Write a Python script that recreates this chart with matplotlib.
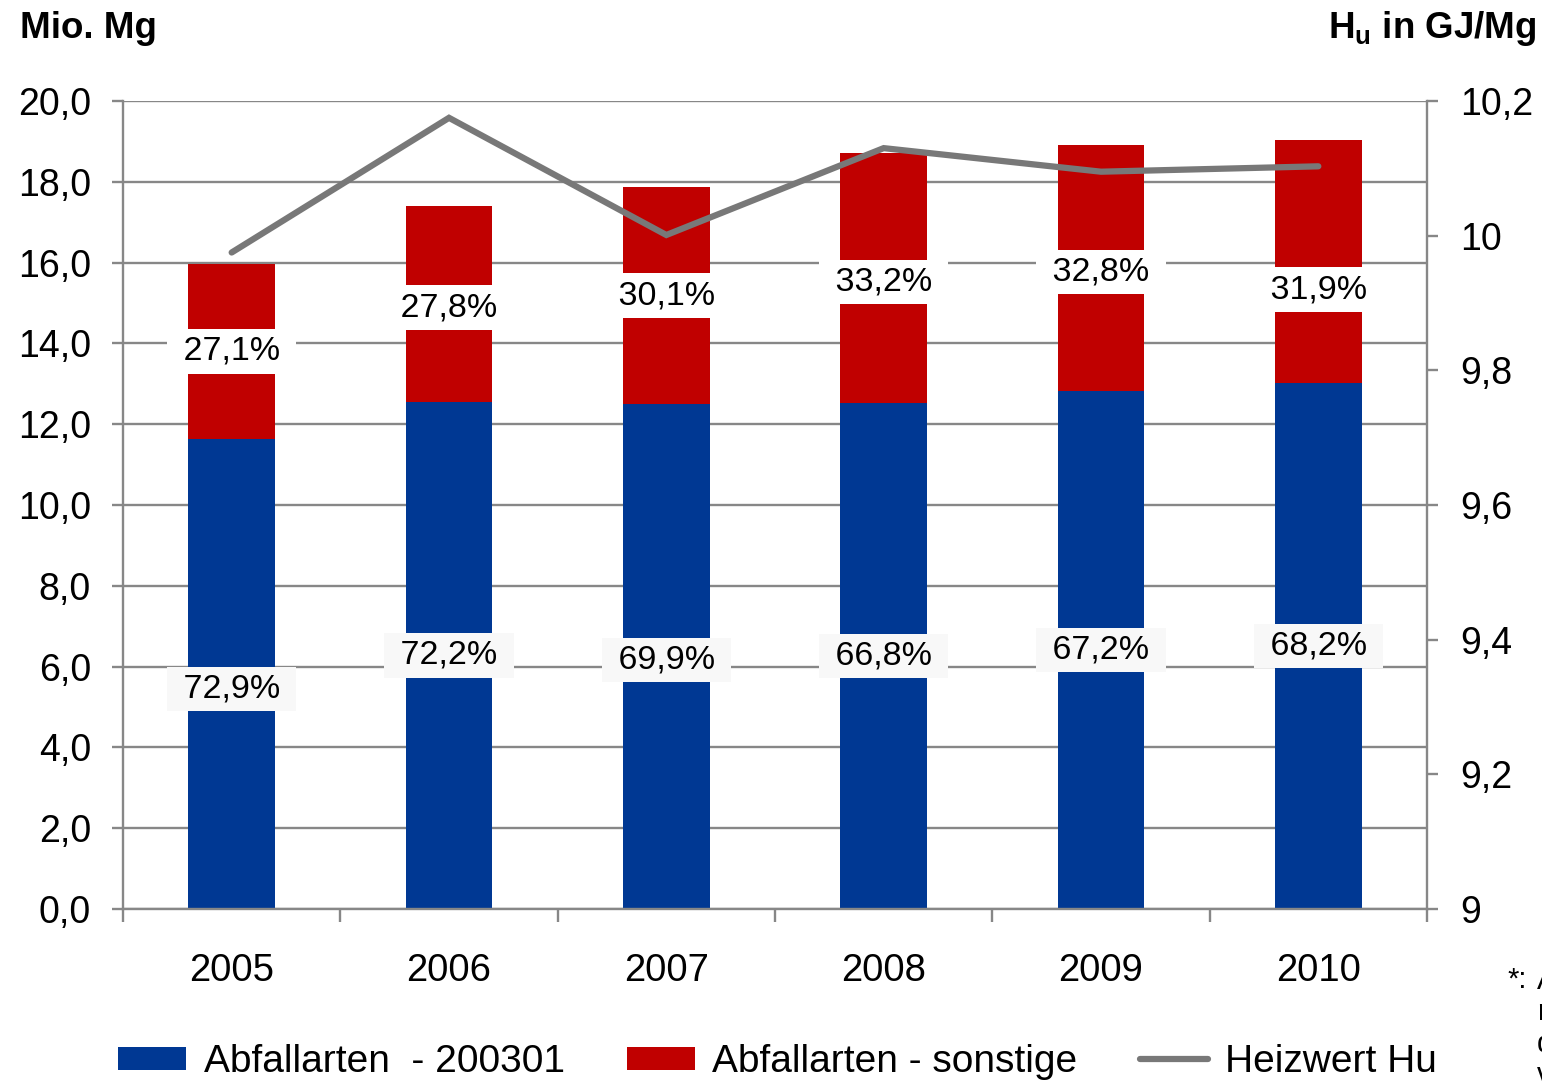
import matplotlib
matplotlib.use('Agg')
import matplotlib.pyplot as plt
import numpy as np

plt.rcParams['font.family'] = ['Liberation Sans', 'DejaVu Sans']
plt.rcParams['mathtext.fontset'] = 'custom'
plt.rcParams['mathtext.rm'] = 'Liberation Sans'
plt.rcParams['mathtext.bf'] = 'Liberation Sans:bold'

# data
years = ['2005', '2006', '2007', '2008', '2009', '2010']
menge_200301 = [11.64, 12.55, 12.50, 12.52, 12.82, 13.02]   # Mio. Mg
menge_sonstige = [4.32, 4.85, 5.37, 6.19, 6.10, 6.02]       # Mio. Mg
anteil_200301 = [72.9, 72.2, 69.9, 66.8, 67.2, 68.2]        # %
anteil_sonstige = [27.1, 27.8, 30.1, 33.2, 32.8, 31.9]      # %
heizwert = [9.975, 10.175, 10.001, 10.130, 10.095, 10.103]  # GJ/Mg

# small label nudges (Mio. Mg) as in the original
nudge_blue = [-0.37, 0, -0.09, 0, 0, 0]
nudge_red = [0, -0.09, 0, -0.1, -0.1, -0.7]

blue = '#003893'
red = '#c00000'
grey = '#878787'
line_grey = '#787878'

fig = plt.figure(figsize=(15.42, 10.82), dpi=100)
ax = fig.add_axes([123/1542, 1-909/1082, (1427-123)/1542, (909-101)/1082])
ax2 = ax.twinx()

x = np.arange(len(years))
w = 0.4
ax.bar(x, menge_200301, w, color=blue, zorder=2, label='Abfallarten  - 200301')
ax.bar(x, menge_sonstige, w, bottom=menge_200301, color=red, zorder=2,
       label='Abfallarten - sonstige')

for i in range(len(years)):
    b = menge_200301[i]
    r = menge_sonstige[i]
    ax.text(x[i], b/2 + nudge_blue[i], ' %s%% ' % ('%.1f' % anteil_200301[i]).replace('.', ','),
            ha='center', va='center', fontsize=24.5, zorder=4,
            bbox=dict(boxstyle='square,pad=0.2', fc='#f8f8f8', ec='none'))
    ax.text(x[i], b + r/2 + nudge_red[i], ' %s%% ' % ('%.1f' % anteil_sonstige[i]).replace('.', ','),
            ha='center', va='center', fontsize=24.5, zorder=4,
            bbox=dict(boxstyle='square,pad=0.2', fc='white', ec='none'))

ax2.plot(x, heizwert, color=line_grey, lw=4.5, solid_capstyle='round',
         solid_joinstyle='miter', label='Heizwert Hu', zorder=5)

# left axis
ax.set_xlim(-0.5, 5.5)
ax.set_ylim(0, 20)
yt = np.arange(0, 20.1, 2)
ax.set_yticks(yt)
ax.set_yticklabels([('%.1f' % v).replace('.', ',') for v in yt])
ax.yaxis.grid(True, color=grey, lw=1.7)
ax.set_axisbelow(True)
ax.set_xticks(x)
ax.set_xticklabels(years)
ax.set_xticks(np.arange(-0.5, 5.6, 1), minor=True)
ax.tick_params(axis='x', which='major', length=0, pad=32, labelsize=27.5)
ax.tick_params(axis='x', which='minor', length=9, width=1.7, color=grey, direction='out')
ax.tick_params(axis='y', length=8, width=1.7, color=grey, pad=15, labelsize=27)
for s in ['top', 'right']:
    ax.spines[s].set_visible(False)
for s in ['left', 'bottom']:
    ax.spines[s].set_color(grey)
    ax.spines[s].set_linewidth(1.7)

# right axis
ax2.set_ylim(9, 10.2)
rt = np.round(np.arange(9, 10.21, 0.2), 1)
ax2.set_yticks(rt)
ax2.set_yticklabels([('%g' % v).replace('.', ',') for v in rt])
ax2.tick_params(axis='y', length=8, width=1.7, color=grey, pad=16, labelsize=27)
for s in ['top', 'left', 'bottom']:
    ax2.spines[s].set_visible(False)
ax2.spines['right'].set_color(grey)
ax2.spines['right'].set_linewidth(1.7)

fig.text(20/1542, 1-28/1082, 'Mio. Mg', fontsize=26.5, fontweight='bold', va='center', ha='left')
fig.text(1536/1542, 1-28/1082, r'$\mathbf{H_u}$ in GJ/Mg', fontsize=26.5, fontweight='bold',
         va='center', ha='right')

# footnote, cut by the right edge as in the original
fig.text(1507/1542, 1-980/1082, '*:', fontsize=21, va='center', ha='left')
fig.text(1537/1542, 1-967/1082, 'Abfall\nmit\ndem\nvon', fontsize=21, va='top', ha='left',
         linespacing=1.15)

h1, l1 = ax.get_legend_handles_labels()
h2, l2 = ax2.get_legend_handles_labels()
fig.legend(h1 + h2, l1 + l2, loc='center left', bbox_to_anchor=(118/1542, 1-1062/1082),
           ncol=3, frameon=False, fontsize=28, handlelength=1.75, handleheight=0.55,
           handletextpad=0.45, columnspacing=1.6, borderpad=0, borderaxespad=0)

fig.savefig('out.png', dpi=100)
